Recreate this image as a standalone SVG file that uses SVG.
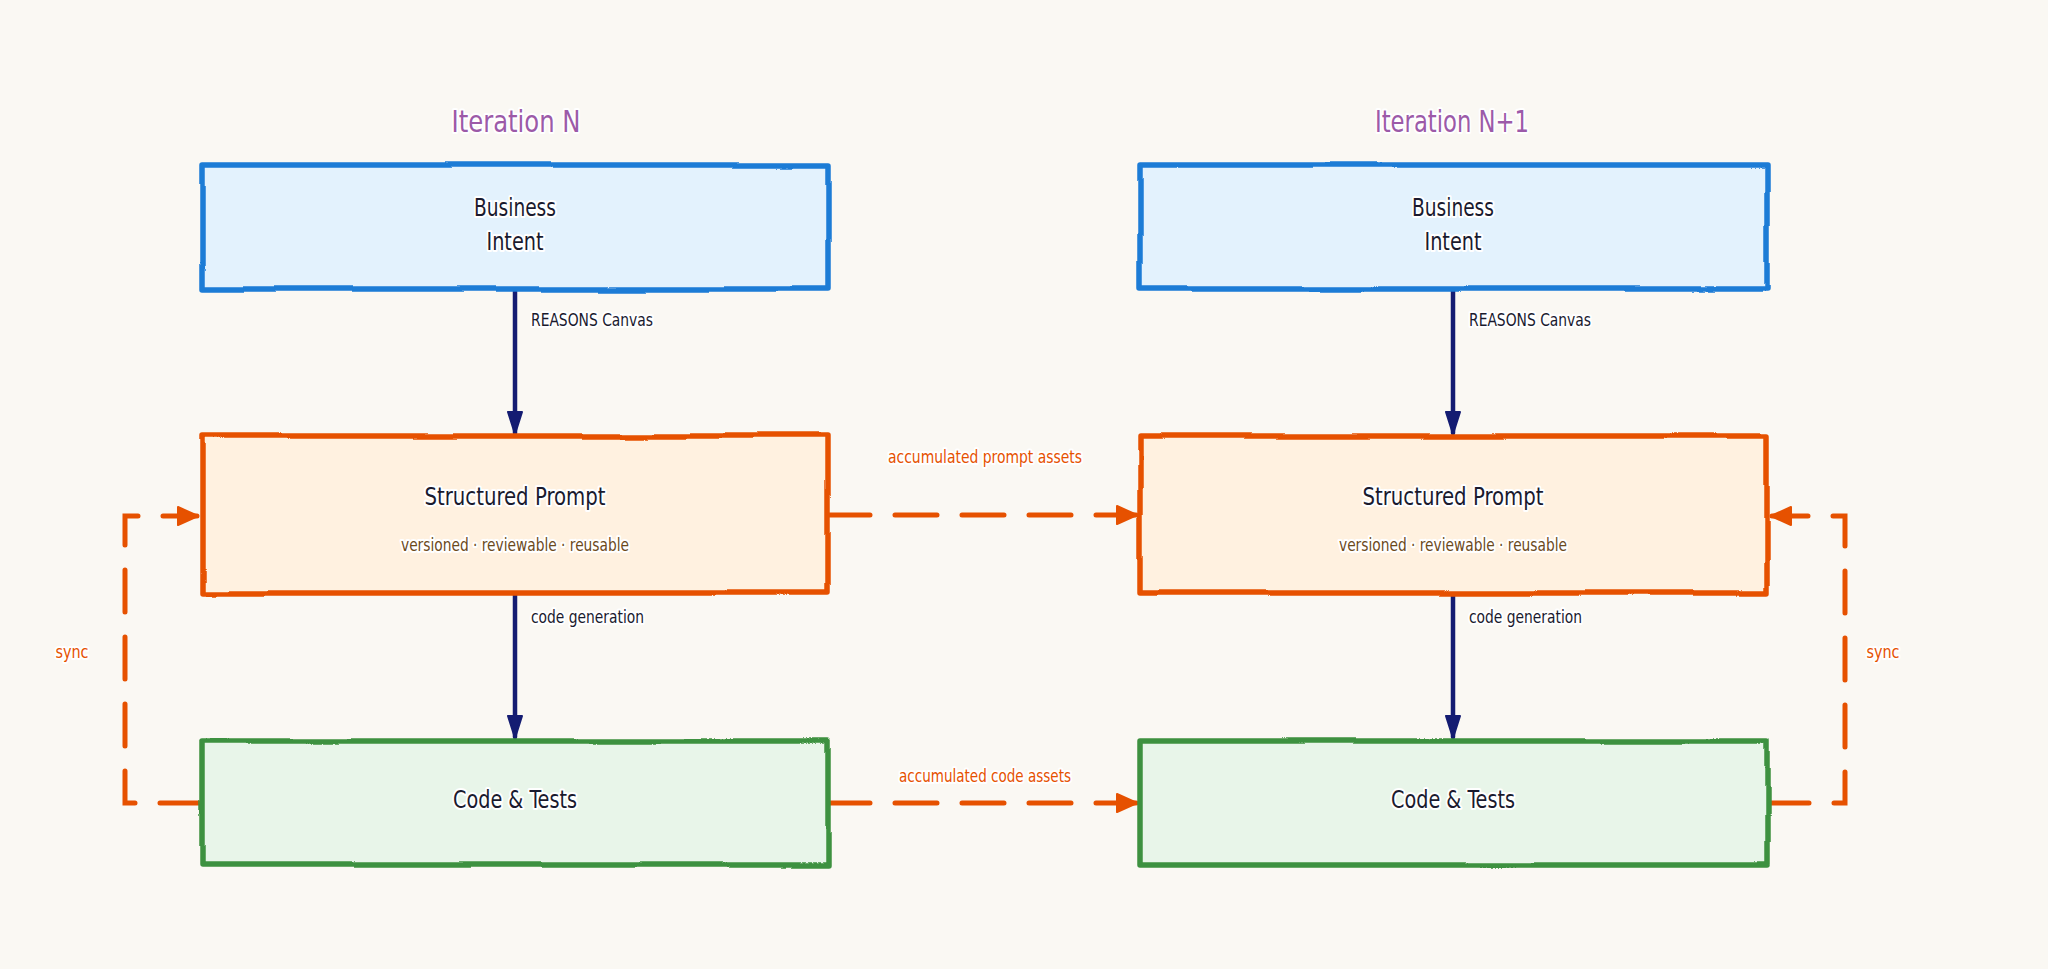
<svg xmlns="http://www.w3.org/2000/svg" width="2048" height="969" viewBox="0 0 2048 969">
<style>
  text { font-family: "Liberation Sans Narrow", "DejaVu Sans Condensed", "Noto Sans", sans-serif; text-anchor: middle; dominant-baseline: central; paint-order: stroke; stroke: #ffffff; stroke-width: 4px; stroke-linejoin: round; }
  .title { font-size: 31px; fill: #9c5aa8; }
  .main { font-size: 24px; fill: #1a1a2e; }
  .sub { font-size: 17px; fill: #6b4a1c; }
  .lbl { font-size: 17px; fill: #1a1a2e; text-anchor: start; }
  .olbl { font-size: 17px; fill: #e65100; }
  .box { stroke-width: 5.5; stroke-linejoin: round; filter: url(#rough); }
  .blue { fill: #e3f2fd; stroke: #1e7bd6; }
  .orange { fill: #fff1e0; stroke: #e65100; }
  .green { fill: #e8f5e9; stroke: #3c913f; }
  .flow { fill: none; stroke: #141c72; stroke-width: 4.5; stroke-linecap: round; }
  .dash { fill: none; stroke: #e65100; stroke-width: 5; stroke-linecap: round; stroke-dasharray: 42 25; }
</style>
<defs>
  <filter id="rough" x="-3%" y="-8%" width="106%" height="116%">
    <feTurbulence type="fractalNoise" baseFrequency="0.007 0.012" numOctaves="1" seed="7" result="n"/>
    <feDisplacementMap in="SourceGraphic" in2="n" scale="7" xChannelSelector="R" yChannelSelector="G"/>
  </filter>
  <marker id="navyHead" viewBox="0 0 24 18" refX="22" refY="9" markerWidth="24" markerHeight="18" markerUnits="userSpaceOnUse" orient="auto">
    <path d="M1,2 L23,9 L1,16 Z" fill="#141c72" stroke="#141c72" stroke-width="2" stroke-linejoin="round"/>
  </marker>
  <marker id="orangeHead" viewBox="0 0 22 22" refX="20" refY="11" markerWidth="22" markerHeight="22" markerUnits="userSpaceOnUse" orient="auto">
    <path d="M1,2 L21,11 L1,20 Z" fill="#e65100" stroke="#e65100" stroke-width="2" stroke-linejoin="round"/>
  </marker>
</defs>
<rect x="0" y="0" width="2048" height="969" fill="#faf8f3"/>

<text class="title" x="516" y="121" textLength="129" lengthAdjust="spacingAndGlyphs">Iteration N</text>
<text class="title" x="1452" y="121" textLength="154" lengthAdjust="spacingAndGlyphs">Iteration N+1</text>

<g id="connectors">
  <path class="flow" d="M515,290 L515,433" marker-end="url(#navyHead)"/>
  <path class="flow" d="M515,594 L515,737" marker-end="url(#navyHead)"/>
  <path class="flow" d="M1453,290 L1453,433" marker-end="url(#navyHead)"/>
  <path class="flow" d="M1453,594 L1453,737" marker-end="url(#navyHead)"/>
  <path class="dash" d="M828,515 L1136,515" marker-end="url(#orangeHead)"/>
  <path class="dash" d="M828,803 L1136,803" marker-end="url(#orangeHead)"/>
  <path class="dash" d="M202,803 L125,803 L125,516 L197,516" marker-end="url(#orangeHead)"/>
  <path class="dash" d="M1767,803 L1845,803 L1845,516 L1772,516" marker-end="url(#orangeHead)"/>
  <text class="lbl" x="531" y="320" textLength="122" lengthAdjust="spacingAndGlyphs">REASONS Canvas</text>
  <text class="lbl" x="531" y="617" textLength="113" lengthAdjust="spacingAndGlyphs">code generation</text>
  <text class="lbl" x="1469" y="320" textLength="122" lengthAdjust="spacingAndGlyphs">REASONS Canvas</text>
  <text class="lbl" x="1469" y="617" textLength="113" lengthAdjust="spacingAndGlyphs">code generation</text>
  <text class="olbl" x="985" y="457" textLength="194" lengthAdjust="spacingAndGlyphs">accumulated prompt assets</text>
  <text class="olbl" x="985" y="776" textLength="172" lengthAdjust="spacingAndGlyphs">accumulated code assets</text>
  <text class="olbl" x="72" y="652" textLength="33" lengthAdjust="spacingAndGlyphs">sync</text>
  <text class="olbl" x="1883" y="652" textLength="33" lengthAdjust="spacingAndGlyphs">sync</text>
</g>

<g id="intent-n">
  <rect class="box blue" x="202" y="165" width="626" height="124"/>
  <text class="main" x="515" y="208" textLength="82" lengthAdjust="spacingAndGlyphs">Business</text>
  <text class="main" x="515" y="242" textLength="57" lengthAdjust="spacingAndGlyphs">Intent</text>
</g>
<g id="prompt-n">
  <rect class="box orange" x="202" y="436" width="626" height="157"/>
  <text class="main" x="515" y="497" textLength="181" lengthAdjust="spacingAndGlyphs">Structured Prompt</text>
  <text class="sub" x="515" y="545" textLength="228" lengthAdjust="spacingAndGlyphs">versioned · reviewable · reusable</text>
</g>
<g id="code-n">
  <rect class="box green" x="202" y="741" width="626" height="124"/>
  <text class="main" x="515" y="800" textLength="124" lengthAdjust="spacingAndGlyphs">Code &amp; Tests</text>
</g>

<g id="intent-n1">
  <rect class="box blue" x="1140" y="165" width="627" height="124"/>
  <text class="main" x="1453" y="208" textLength="82" lengthAdjust="spacingAndGlyphs">Business</text>
  <text class="main" x="1453" y="242" textLength="57" lengthAdjust="spacingAndGlyphs">Intent</text>
</g>
<g id="prompt-n1">
  <rect class="box orange" x="1140" y="436" width="627" height="157"/>
  <text class="main" x="1453" y="497" textLength="181" lengthAdjust="spacingAndGlyphs">Structured Prompt</text>
  <text class="sub" x="1453" y="545" textLength="228" lengthAdjust="spacingAndGlyphs">versioned · reviewable · reusable</text>
</g>
<g id="code-n1">
  <rect class="box green" x="1140" y="741" width="627" height="124"/>
  <text class="main" x="1453" y="800" textLength="124" lengthAdjust="spacingAndGlyphs">Code &amp; Tests</text>
</g>
</svg>
